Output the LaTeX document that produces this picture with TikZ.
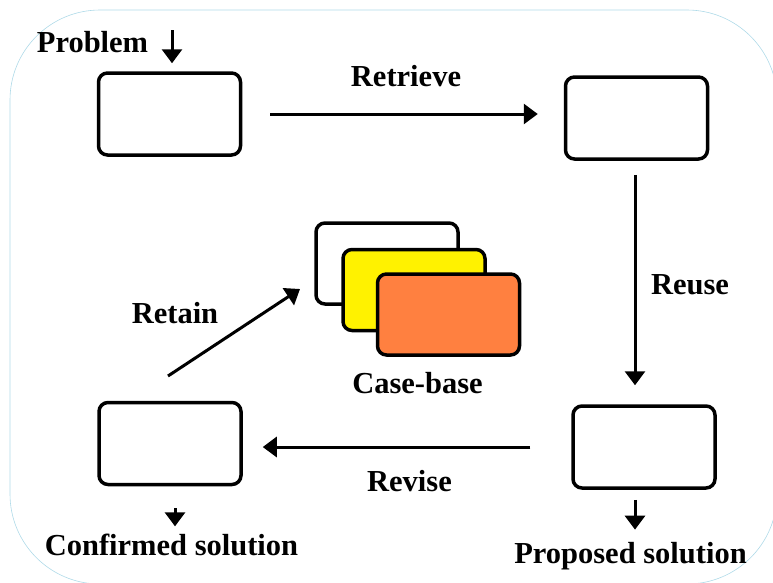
\documentclass[tikz,border=0pt]{standalone}
\usepackage{fontspec}
\setmainfont{Liberation Serif}
\usetikzlibrary{arrows.meta,positioning}
\definecolor{caseorange}{RGB}{255,128,64}
\definecolor{framecyan}{RGB}{175,218,232}

\begin{document}
\begin{tikzpicture}[x=1pt, y=-1pt,
  >={Triangle[length=14pt, width=20pt]},
  stagebox/.style={draw, line width=3.5pt, rounded corners=9pt,
    minimum width=142pt, minimum height=82pt, inner sep=0pt},
  casecard/.style={stagebox, minimum height=81pt},
  flow/.style={->, line width=3pt},
  lbl/.style={font=\fontsize{30.5}{36}\selectfont\bfseries, inner sep=0pt}]

\useasboundingbox (0,0) rectangle (773,582);
\draw[framecyan, line width=0.6pt, rounded corners=90pt] (10,10) rectangle (777,584);

% the four stages of the cycle
\node[stagebox] (problembox) at (169.5,114) {};
\node[stagebox] (retrievedbox) at (636.5,118) {};
\node[stagebox] (proposedbox) at (644,447) {};
\node[stagebox] (confirmedbox) at (170,443.5) {};

% stacked case cards
\node[casecard, fill=white] (oldcase) at (387,263.5) {};
\node[casecard, fill=yellow] (midcase) at (414,290) {};
\node[casecard, fill=caseorange] (newcase) at (448.5,314.5) {};

\node[lbl, anchor=base] (problemlbl) at (92.5,52) {Problem};
\node[lbl, anchor=base] (retrievelbl) at (406,86) {Retrieve};
\node[lbl, anchor=base] (reuselbl) at (690,294) {Reuse};
\node[lbl, anchor=base] (retainlbl) at (175,323) {Retain};
\node[lbl, anchor=base] (reviselbl) at (409.5,491) {Revise};
\node[lbl, anchor=base] (casebaselbl) at (417.5,393) {Case-base};
\node[lbl, anchor=base] (confirmedlbl) at (171.5,555) {Confirmed solution};
\node[lbl, anchor=base] (proposedlbl) at (630.5,563) {Proposed solution};

\coordinate (problemin) at (172,30);
\coordinate (retainfoot) at (168,376);
\coordinate (retaintip) at (300,289);

\draw[flow, shorten >=8pt] (problemin) -- (problemin |- problembox.north);
\draw[flow, shorten <=28pt, shorten >=26pt] (problembox.east) -- (problembox.east -| retrievedbox.west);
\draw[flow, shorten <=14pt, shorten >=19pt] ([xshift=-1.5pt]retrievedbox.south) -- ([xshift=-1.5pt]retrievedbox.south |- proposedbox.north);
\draw[flow, shorten <=41pt, shorten >=20pt] (proposedbox.west) -- (proposedbox.west -| confirmedbox.east);
\draw[flow] (retainfoot) -- (retaintip);
\draw[flow, shorten <=22pt, shorten >=7pt] ([xshift=5pt]confirmedbox.south) -- ([xshift=5pt]confirmedbox.south |- confirmedlbl.north);
\draw[flow, shorten <=10pt, shorten >=12pt] ([xshift=-9pt]proposedbox.south) -- ([xshift=-9pt]proposedbox.south |- proposedlbl.north);

\end{tikzpicture}
\end{document}
